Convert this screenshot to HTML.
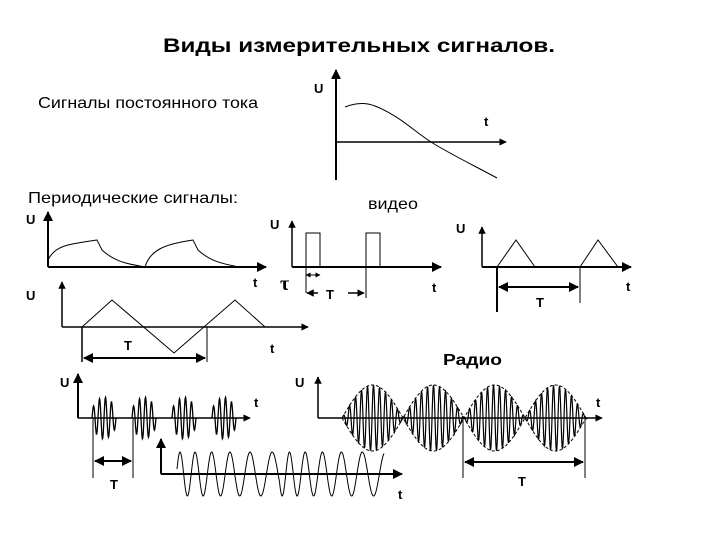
<!DOCTYPE html>
<html><head><meta charset="utf-8"><style>
html,body{margin:0;padding:0;background:#fff;}
svg{display:block;font-family:"Liberation Sans",sans-serif;}
</style></head><body>
<svg id="s" width="720" height="540" viewBox="0 0 720 540" xmlns="http://www.w3.org/2000/svg">
<defs>
<marker id="a" viewBox="0 0 10 10" refX="9" refY="5" markerWidth="5" markerHeight="5" orient="auto-start-reverse"><path d="M0,0L10,5L0,10z" fill="#000"/></marker>
</defs>
<rect width="720" height="540" fill="#fff"/>
<g fill="#000">
<text x="163" y="52" font-size="19" font-weight="bold" textLength="392" lengthAdjust="spacingAndGlyphs">Виды измерительных сигналов.</text>
<text x="38" y="108" font-size="16" textLength="220" lengthAdjust="spacingAndGlyphs">Сигналы постоянного тока</text>
<text x="28" y="203" font-size="16" textLength="210" lengthAdjust="spacingAndGlyphs">Периодические сигналы:</text>
<text x="368" y="209" font-size="16" textLength="50" lengthAdjust="spacingAndGlyphs">видео</text>
<text x="443" y="365" font-size="16" font-weight="bold" textLength="59" lengthAdjust="spacingAndGlyphs">Радио</text>
<g font-size="13" font-weight="bold">
<text x="314" y="93">U</text><text x="484" y="126">t</text>
<text x="26" y="224">U</text><text x="253" y="287">t</text>
<text x="26" y="300">U</text><text x="124" y="350">T</text><text x="270" y="353">t</text>
<text x="270" y="229">U</text><text x="326" y="299">T</text><text x="432" y="292">t</text>
<text x="456" y="233">U</text><text x="536" y="307">T</text><text x="626" y="291">t</text>
<text x="60" y="387">U</text><text x="254" y="407">t</text><text x="110" y="489">T</text>
<text x="398" y="499">t</text>
<text x="295" y="387">U</text><text x="596" y="407">t</text><text x="518" y="486">T</text>
</g>
<text x="280" y="290" font-size="20" font-family="Liberation Serif,serif" font-weight="bold">τ</text>
</g>
<g stroke="#000" fill="none" stroke-width="1">
<line x1="336" y1="180" x2="336" y2="70" stroke-width="2" marker-end="url(#a)"/>
<line x1="336" y1="142" x2="506" y2="142" stroke-width="1.5" marker-end="url(#a)"/>
<path d="M345,107 C355,103 365,102 375,106 C400,116 415,132 431,142 C450,154 475,166 497,178"/>
<line x1="48" y1="267" x2="48" y2="212" stroke-width="2" marker-end="url(#a)"/>
<line x1="48" y1="267" x2="266" y2="267" stroke-width="2" marker-end="url(#a)"/>
<path d="M48,260 C55,245 70,244 97,240 L102,250 C115,262 128,264 145,267 C150,250 165,244 193,240 L198,250 C211,262 224,264 239,267"/>
<line x1="62" y1="327" x2="62" y2="282" stroke-width="1.5" marker-end="url(#a)"/>
<line x1="62" y1="327" x2="308" y2="327" stroke-width="1.5" marker-end="url(#a)"/>
<path d="M82,327 L112,300 L174,353 L235,300 L265,327"/>
<line x1="82" y1="327" x2="82" y2="362" stroke-width="1.5"/>
<line x1="207" y1="327" x2="207" y2="362"/>
<line x1="84" y1="358" x2="205" y2="358" stroke-width="2" marker-start="url(#a)" marker-end="url(#a)"/>
<line x1="292" y1="267" x2="292" y2="221" stroke-width="1.5" marker-end="url(#a)"/>
<line x1="292" y1="267" x2="441" y2="267" stroke-width="2" marker-end="url(#a)"/>
<path d="M306,293 L306,233 L320,233 L320,267 M366,298 L366,233 L380,233 L380,267"/>
<line x1="306" y1="275" x2="320" y2="275" marker-start="url(#a)" marker-end="url(#a)"/>
<line x1="307" y1="293" x2="318" y2="293" stroke-width="1.5" marker-start="url(#a)"/>
<line x1="348" y1="293" x2="364" y2="293" stroke-width="1.5" marker-end="url(#a)"/>
<line x1="482" y1="267" x2="482" y2="227" stroke-width="1.5" marker-end="url(#a)"/>
<line x1="482" y1="267" x2="631" y2="267" stroke-width="2" marker-end="url(#a)"/>
<path d="M497,267 L516,240 L535,267 M580,267 L598,240 L618,267"/>
<line x1="497" y1="267" x2="497" y2="312" stroke-width="2"/>
<line x1="580" y1="267" x2="580" y2="303"/>
<line x1="499" y1="287" x2="578" y2="287" stroke-width="2" marker-start="url(#a)" marker-end="url(#a)"/>
<line x1="78" y1="418" x2="78" y2="374" stroke-width="2" marker-end="url(#a)"/>
<line x1="78" y1="418" x2="250" y2="418" stroke-width="1.5" marker-end="url(#a)"/>
<path id="pA" stroke-width="1.3"/>
<line x1="93" y1="418" x2="93" y2="478"/>
<line x1="133" y1="418" x2="133" y2="478"/>
<line x1="95" y1="461" x2="131" y2="461" stroke-width="2" marker-start="url(#a)" marker-end="url(#a)"/>
<line x1="161" y1="474" x2="161" y2="439" stroke-width="2" marker-end="url(#a)"/>
<line x1="161" y1="474" x2="402" y2="474" stroke-width="2" marker-end="url(#a)"/>
<path id="pB"/>
<line x1="318" y1="418" x2="318" y2="377" stroke-width="1.5" marker-end="url(#a)"/>
<line x1="318" y1="418" x2="602" y2="418" stroke-width="1.5" marker-end="url(#a)"/>
<path id="pC" stroke-width="1.2"/>
<path id="pE" stroke-dasharray="3,2"/>
<line x1="463" y1="418" x2="463" y2="478"/>
<line x1="585" y1="418" x2="585" y2="478"/>
<line x1="465" y1="462" x2="583" y2="462" stroke-width="2" marker-start="url(#a)" marker-end="url(#a)"/>
</g>
<script>
function f(n){return n.toFixed(1);}
var d="";
[92,132,172,212].forEach(function(x0){
  for(var i=0;i<=60;i++){var x=x0+i*0.4;var t=i/60;
    var env=21*Math.sin(Math.PI*Math.min(1,t*0.7+0.15));
    var y=418-env*Math.sin(2*Math.PI*t*4);
    d+=(i?"L":"M")+f(x)+","+f(y);}
});
document.getElementById("pA").setAttribute("d",d);
d="";var ph=0;
for(var x=177;x<=384;x+=0.5){
  var u=(x<280)?(x-177)/103:(x-280)/104;
  var per=14+10*u; ph+=2*Math.PI*0.5/per;
  var y=474-22*Math.sin(ph);
  d+=(x==177?"M":"L")+f(x)+","+f(y);}
document.getElementById("pB").setAttribute("d",d);
d="";
for(var x=342;x<=587;x+=0.4){
  var env=33*Math.abs(Math.sin(Math.PI*(x-342)/61));
  var y=418-env*Math.sin(2*Math.PI*(x-342)/6);
  d+=(x==342?"M":"L")+f(x)+","+f(y);}
var up="",dn="";
for(var x=342;x<=587;x+=1){
  var env=33*Math.abs(Math.sin(Math.PI*(x-342)/61));
  up+=(x==342?"M":"L")+f(x)+","+f(418-env);
  dn+=(x==342?"M":"L")+f(x)+","+f(418+env);}
document.getElementById("pC").setAttribute("d",d);
document.getElementById("pE").setAttribute("d",up+dn);
</script>
</svg>
</body></html>
